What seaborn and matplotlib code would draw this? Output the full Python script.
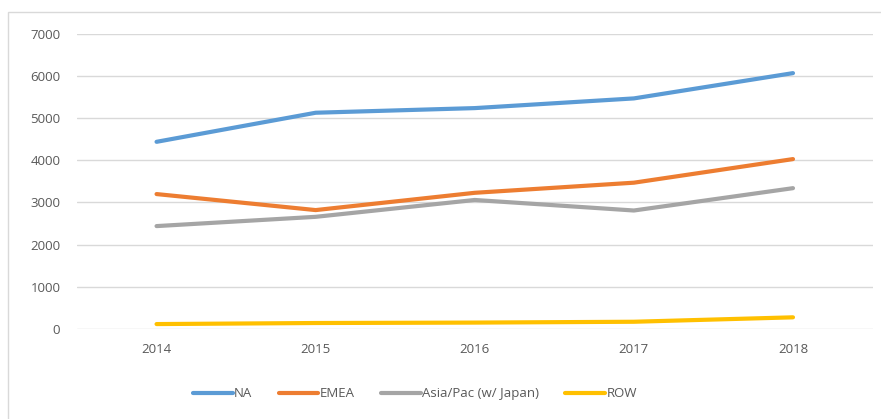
import pandas as pd
import seaborn as sns
import matplotlib.pyplot as plt
from matplotlib.patches import Rectangle

years = ["2014", "2015", "2016", "2017", "2018"]
na = [4440, 5130, 5240, 5470, 6070]
emea = [3200, 2820, 3230, 3470, 4030]
asia_pac = [2440, 2660, 3060, 2810, 3340]
row = [115, 140, 150, 170, 275]
regions = ["NA", "EMEA", "Asia/Pac (w/ Japan)", "ROW"]
colors = ["#5B9BD5", "#ED7D31", "#A5A5A5", "#FFC000"]

df = pd.DataFrame({"Year": years * 4,
                   "Value": na + emea + asia_pac + row,
                   "Region": [r for r in regions for _ in years]})

sns.set_theme(style="white")
plt.rcParams["font.family"] = ["Open Sans", "DejaVu Sans"]
plt.rcParams["lines.solid_capstyle"] = "round"

fig = plt.figure(figsize=(8.81, 4.19), dpi=100)
ax = fig.add_axes([0.0874, 0.215, 0.903, 0.704])

sns.lineplot(data=df, x="Year", y="Value", hue="Region", palette=colors,
             linewidth=3, ax=ax, sort=False)

ax.set_xlim(-0.5, 4.5)
ax.set_ylim(0, 7000)
ax.set_yticks(range(0, 7001, 1000))
ax.yaxis.grid(True, color="#d9d9d9", linewidth=1)
ax.set_axisbelow(True)
for s in ax.spines.values():
    s.set_visible(False)
ax.tick_params(axis="both", labelsize=9.5, colors="#595959", length=0)
ax.tick_params(axis="y", pad=12)
ax.tick_params(axis="x", pad=10)
ax.set(xlabel="", ylabel="")

ax.legend(loc="center", bbox_to_anchor=(0.425, -0.22), ncol=4, frameon=False,
          fontsize=9.5, handlelength=3.0, handletextpad=0.1, columnspacing=2.0,
          labelcolor="#595959")

# outer chart frame
fig.patches.append(Rectangle((0.009, -0.01), 1.0, 0.982, transform=fig.transFigure,
                             fill=False, edgecolor="#d9d9d9", linewidth=1))

fig.savefig("out.png", dpi=100)
